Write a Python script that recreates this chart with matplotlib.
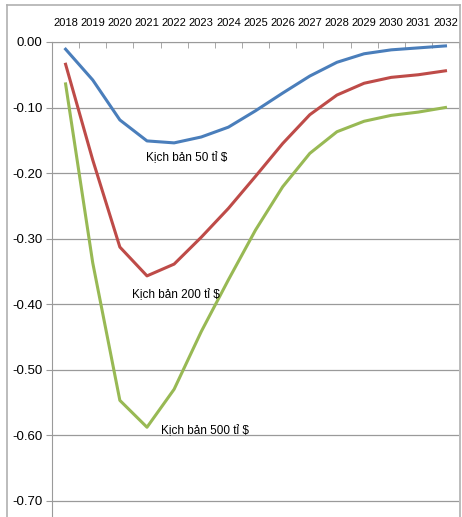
import matplotlib

matplotlib.use("Agg")
import matplotlib.pyplot as plt
from matplotlib.lines import Line2D

years = [str(y) for y in range(2018, 2033)]

# losses by scenario (share of GDP, %)
kb_50 = [-0.011, -0.058, -0.119, -0.151, -0.154, -0.145, -0.130, -0.105,
         -0.078, -0.052, -0.031, -0.018, -0.012, -0.009, -0.006]
kb_200 = [-0.034, -0.180, -0.313, -0.357, -0.339, -0.298, -0.254, -0.205,
          -0.155, -0.111, -0.081, -0.063, -0.054, -0.050, -0.044]
kb_500 = [-0.064, -0.337, -0.547, -0.588, -0.530, -0.442, -0.363, -0.287,
          -0.221, -0.170, -0.137, -0.121, -0.112, -0.107, -0.100]

labels = ["Kịch bản 50 tỉ $", "Kịch bản 200 tỉ $", "Kịch bản 500 tỉ $"]
yticks = [0.0, -0.1, -0.2, -0.3, -0.4, -0.5, -0.6, -0.7]

BLUE = "#4a7ebb"
RED = "#be4b48"
GREEN = "#98b954"
GRID = "#9a9a9a"

plt.rcParams["font.family"] = ["Liberation Sans", "DejaVu Sans"]

fig = plt.figure(figsize=(4.62, 5.17), dpi=100)
ax = fig.add_axes([0.1126, 0.0, 0.881, 0.9188])

x = range(len(years))
for vals, col in ((kb_50, BLUE), (kb_200, RED), (kb_500, GREEN)):
    ax.plot(x, vals, color=col, lw=2.2, solid_joinstyle="round")

ax.set_xlim(-0.5, len(years) - 0.5)
ax.set_ylim(-0.725, 0.0)
ax.set_yticks(yticks)
ax.set_yticklabels([f"{v:.2f}" for v in yticks], fontsize=9.5)
ax.yaxis.grid(True, color=GRID, lw=0.9)
ax.set_axisbelow(True)

# year labels sit above the zero line, category ticks hang down from it
ax.xaxis.tick_top()
ax.set_xticks(list(x))
ax.set_xticklabels(years, fontsize=8)
ax.tick_params(axis="x", length=0, pad=10)
ax.set_xticks([i - 0.5 for i in range(len(years) + 1)], minor=True)
ax.tick_params(axis="x", which="minor", direction="in", length=4,
               color=GRID, top=True)
ax.tick_params(axis="y", direction="out", length=4, color=GRID, pad=3)

for s in ("right", "bottom"):
    ax.spines[s].set_visible(False)
ax.spines["left"].set_color(GRID)
ax.spines["top"].set_color(GRID)

ax.text(4.45, -0.177, labels[0], fontsize=8.5, ha="center", va="center")
ax.text(4.08, -0.386, labels[1], fontsize=8.5, ha="center", va="center")
ax.text(5.15, -0.594, labels[2], fontsize=8.5, ha="center", va="center")

# outer chart-area frame
frame = dict(color="#b0b0b0", lw=1.2, transform=fig.transFigure)
fig.add_artist(Line2D([0.015, 0.015], [0.0, 0.99], **frame))
fig.add_artist(Line2D([0.015, 0.996], [0.99, 0.99], **frame))
fig.add_artist(Line2D([0.996, 0.996], [0.0, 0.99], **frame))

fig.savefig("out.png", dpi=100)
